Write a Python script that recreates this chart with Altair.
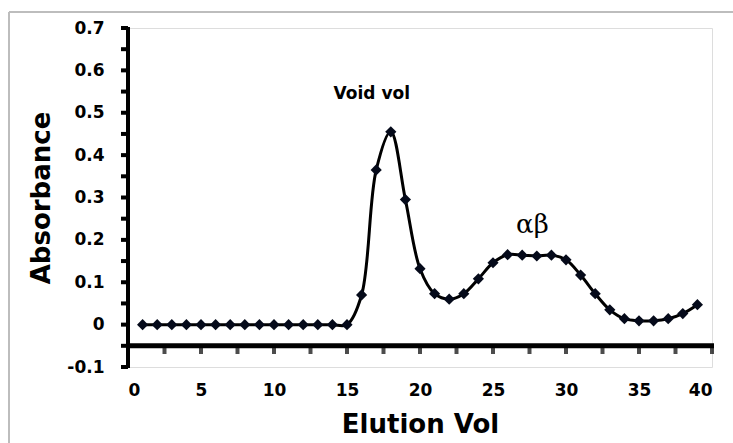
import altair as alt
import pandas as pd

elution_vol = list(range(1, 40))
absorbance = [0.0] * 15 + [0.07, 0.365, 0.455, 0.295, 0.132, 0.073, 0.06, 0.073, 0.108,
                           0.146, 0.165, 0.164, 0.162, 0.164, 0.153, 0.117, 0.073, 0.035,
                           0.014, 0.009, 0.009, 0.014, 0.026, 0.047]

x_ticks = [i * 2.5 for i in range(17)]
y_ticks = [-0.1, -0.05, 0, 0.05, 0.1, 0.15, 0.2, 0.25, 0.3, 0.35, 0.4, 0.45, 0.5, 0.55, 0.6, 0.65, 0.7]
x_axis_cross = [-0.05]

ann_text = ["Void vol", "αβ"]
ann_x = [16.7, 27.7]
ann_y = [0.545, 0.235]

df = pd.DataFrame({"x": elution_vol, "y": absorbance})
ann = pd.DataFrame({"t": ann_text, "x": ann_x, "y": ann_y})
xt = pd.DataFrame({"x": x_ticks})
yt = pd.DataFrame({"y": y_ticks})
cross = pd.DataFrame({"y": x_axis_cross})

FONT = "DejaVu Sans"

xscale = alt.Scale(domain=[0, 40], nice=False, zero=False)
yscale = alt.Scale(domain=[-0.1, 0.7], nice=False, zero=False)

xaxis = alt.Axis(
    values=x_ticks, ticks=False, domain=False,
    labelExpr="round(datum.value*10) % 50 == 0 ? format(datum.value, 'd') : ''",
    labelPadding=15, labelFont=FONT, labelFontWeight="bold",
    labelFontSize=17, labelColor="black", grid=False, title="Elution Vol",
    titleFont=FONT, titleFontSize=26, titleFontWeight="bold", titleColor="black",
    titlePadding=13,
)
yaxis = alt.Axis(
    values=y_ticks, ticks=False, domain=False,
    labelExpr="round(datum.value*100) % 10 == 0 ? replace(format(datum.value, '.1~f'), '\u2212', '-') : ''",
    labelPadding=24, labelFont=FONT, labelFontWeight="bold", labelFontSize=17,
    labelColor="black", grid=False, title="Absorbance", titleFont=FONT,
    titleFontSize=26, titleFontWeight="bold", titleColor="black", titlePadding=12,
)

X = alt.X("x:Q", scale=xscale, axis=xaxis)
Y = alt.Y("y:Q", scale=yscale, axis=yaxis)

# axis lines and tick marks (Excel style: x axis crosses at -0.05)
y_domain = alt.Chart(yt.iloc[[0]]).mark_rule(color="black", strokeWidth=4).encode(
    x=alt.value(0), y=alt.value(-1), y2=alt.value(340)
)
y_tick_marks = alt.Chart(yt).mark_rule(color="black", strokeWidth=4).encode(
    x=alt.value(-7), x2=alt.value(0), y=Y
)
x_domain = alt.Chart(cross).mark_rule(color="black", strokeWidth=5).encode(
    x=alt.value(-2), x2=alt.value(586), y=Y
)
x_tick_marks = alt.Chart(xt).mark_tick(color="black", thickness=4, size=8, orient="vertical").encode(
    x=X, y=alt.value(322)
)

base = alt.Chart(df)
line = base.mark_line(color="black", strokeWidth=3, interpolate="catmull-rom").encode(x=X, y=Y)
pts = base.mark_point(shape="diamond", filled=True, color="#050a1a", size=125, opacity=1).encode(x=X, y=Y)
t1 = alt.Chart(ann.iloc[[0]]).mark_text(font=FONT, fontWeight="bold", fontSize=17, color="black").encode(
    x=X, y=Y, text="t:N"
)
t2 = alt.Chart(ann.iloc[[1]]).mark_text(font="DejaVu Serif", fontSize=26, color="black").encode(
    x=X, y=Y, text="t:N"
)
frame_top = alt.Chart(df.iloc[[0]]).mark_rule(color="#bdbdbd", strokeWidth=2).encode(
    x=alt.value(-119), x2=alt.value(620), y=alt.value(-16)
)
frame_left = alt.Chart(df.iloc[[0]]).mark_rule(color="#bdbdbd", strokeWidth=2).encode(
    x=alt.value(-119), y=alt.value(-16), y2=alt.value(430)
)

chart = alt.layer(
    line, x_tick_marks, x_domain, y_tick_marks, y_domain, pts, t1, t2, frame_top, frame_left
).properties(
    width=584, height=339,
    autosize=alt.AutoSizeParams(type="none"),
    padding={"left": 128, "top": 28, "right": 21, "bottom": 76},
).configure_view(stroke=None).configure(background="white")

chart.save("out.html", embed_options={"renderer": "svg", "actions": False})
